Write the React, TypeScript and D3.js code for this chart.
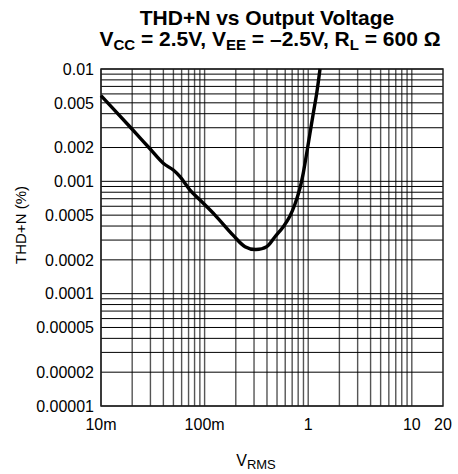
import React from "react";
import * as d3 from "d3";

const vrms = [0.01, 0.019, 0.0238, 0.0297, 0.0399, 0.0499, 0.0579, 0.0723, 0.0903, 0.126, 0.188, 0.2455, 0.311, 0.398, 0.478, 0.575, 0.667, 0.746, 0.833, 0.897, 0.967, 1.04, 1.12, 1.208, 1.3];
const thdn = [0.0058, 0.00306, 0.00244, 0.00195, 0.00145, 0.00126, 0.0011, 0.000837, 0.000682, 0.000501, 0.000332, 0.000262, 0.000247, 0.000262, 0.000321, 0.000394, 0.000491, 0.000628, 0.000872, 0.00119, 0.00178, 0.00268, 0.00403, 0.00608, 0.01];

const yTicks = [0.01, 0.005, 0.002, 0.001, 0.0005, 0.0002, 0.0001, 0.00005, 0.00002, 0.00001];
const yTickLabels = ["0.01", "0.005", "0.002", "0.001", "0.0005", "0.0002", "0.0001", "0.00005", "0.00002", "0.00001"];
const xTicks = [0.01, 0.1, 1, 10, 20];
const xTickLabels = ["10m", "100m", "1", "10", "20"];

const W = 458, H = 474;
const L = 101, R = 443, T = 69, B = 406;

export default function App() {
  const x = d3.scaleLog().domain([0.01, 20]).range([L, R]);
  const y = d3.scaleLog().domain([1e-5, 1e-2]).range([B, T]);

  const hGrid: number[] = [];
  for (let k = -5; k <= -3; k++) for (let m = 1; m <= 9; m++) hGrid.push(m * Math.pow(10, k));
  hGrid.push(0.01);
  const vGrid: number[] = [];
  for (let k = -2; k <= 0; k++) for (let m = 1; m <= 9; m++) vGrid.push(m * Math.pow(10, k));
  vGrid.push(10);

  const line = d3
    .line<number>()
    .x((_, i) => x(vrms[i]))
    .y((_, i) => y(thdn[i]))
    .curve(d3.curveCatmullRom.alpha(0.5));

  const font = "'Liberation Sans', Arial, sans-serif";

  return (
    <svg width={W} height={H} style={{ position: "absolute", left: 0, top: 0, background: "#fff" }} fontFamily={font}>
      <text x={267} y={25} textAnchor="middle" fontWeight="bold" fontSize={21}>THD+N vs Output Voltage</text>
      <text x={270} y={46} textAnchor="middle" fontWeight="bold" fontSize={21}>
        V<tspan fontSize={15} dy={4}>CC</tspan>
        <tspan dy={-4}> = 2.5V, V</tspan>
        <tspan fontSize={15} dy={4}>EE</tspan>
        <tspan dy={-4}> = –2.5V, R</tspan>
        <tspan fontSize={15} dy={4}>L</tspan>
        <tspan dy={-4}> = 600 Ω</tspan>
      </text>

      <g>
        {vGrid.map((v, i) => (
          <line key={"v" + i} x1={x(v)} x2={x(v)} y1={T} y2={B} stroke="#555" strokeWidth={1.4} />
        ))}
        {hGrid.map((v, i) => (
          <line key={"h" + i} x1={L} x2={R} y1={y(v)} y2={y(v)} stroke="#000" strokeWidth={1} />
        ))}
        <rect x={L} y={T} width={R - L} height={B - T} fill="none" stroke="#222" strokeWidth={1.5} />
      </g>

      <path d={line(vrms) || ""} fill="none" stroke="#000" strokeWidth={3.4} strokeLinejoin="round" />

      {yTicks.map((v, i) => (
        <text key={"yt" + i} x={94} y={y(v)} dy="0.36em" textAnchor="end" fontSize={16}>
          {yTickLabels[i]}
        </text>
      ))}
      {xTicks.map((v, i) => (
        <text key={"xt" + i} x={x(v)} y={430} textAnchor="middle" fontSize={16}>
          {xTickLabels[i]}
        </text>
      ))}

      <text transform={`translate(26,225) rotate(-90)`} textAnchor="middle" fontSize={15}>THD+N (%)</text>
      <text x={256} y={466} textAnchor="middle" fontSize={16}>
        V<tspan fontSize={13} dy={3}>RMS</tspan>
      </text>
    </svg>
  );
}
